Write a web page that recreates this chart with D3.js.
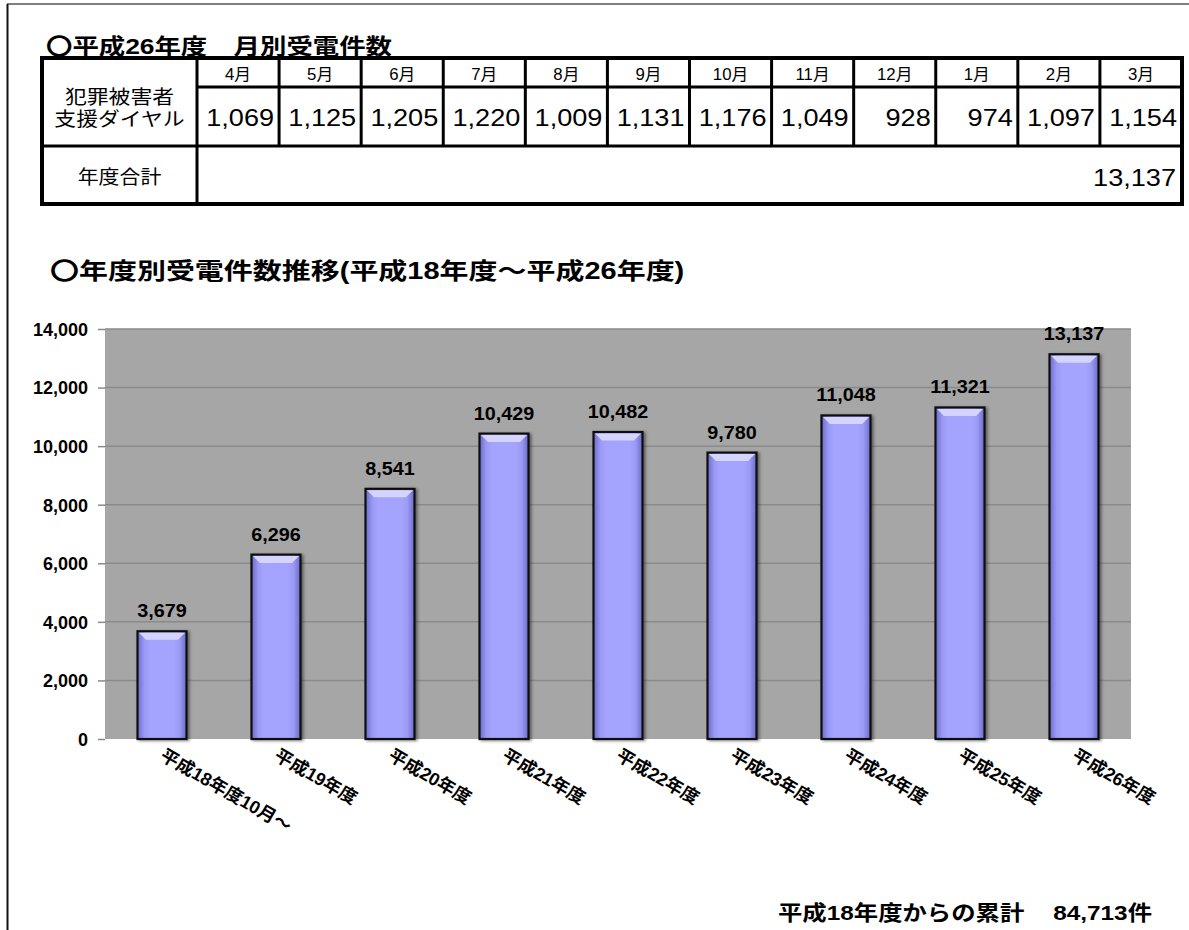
<!DOCTYPE html>
<html><head><meta charset="utf-8">
<script src="https://cdn.jsdelivr.net/npm/d3@7"></script>
<style>
html,body{margin:0;padding:0;background:#fff;}
svg{display:block;font-family:"Liberation Sans",Arial,"Noto Sans CJK JP",sans-serif;}
</style></head>
<body>
<svg id="c" width="1189" height="930"></svg>
<script>
// ---- data ----
const months = ["4月","5月","6月","7月","8月","9月","10月","11月","12月","1月","2月","3月"];
const monthlyCalls = [1069,1125,1205,1220,1009,1131,1176,1049,928,974,1097,1154];
const rowLabel = ["犯罪被害者","支援ダイヤル"];
const totalLabel = "年度合計";
const years = ["平成18年度10月～","平成19年度","平成20年度","平成21年度","平成22年度","平成23年度","平成24年度","平成25年度","平成26年度"];
const yearCalls = [3679,6296,8541,10429,10482,9780,11048,11321,13137];
const yTicks = [0,2000,4000,6000,8000,10000,12000,14000];
const title1 = "〇平成26年度　月別受電件数";
const title2 = "〇年度別受電件数推移(平成18年度～平成26年度)";
const cumLabel = "平成18年度からの累計";
const cumUnit = "件";

const fmt = d3.format(",");
const svg = d3.select("#c");

// stretched text helper
function stext(sel, x, y, sx, size, txt, anchor, bold){
  return sel.append("text").attr("transform",`translate(${x},${y}) scale(${sx},1)`)
    .attr("font-size",size).attr("text-anchor",anchor||"start")
    .attr("font-weight",bold?"bold":"normal").text(txt);
}

// page frame
svg.append("line").attr("x1",7).attr("x2",1189).attr("y1",4).attr("y2",4).attr("stroke","#555").attr("stroke-width",1.5);
svg.append("line").attr("x1",7.5).attr("x2",7.5).attr("y1",4).attr("y2",930).attr("stroke","#111").attr("stroke-width",2);

// ---- table ----
stext(svg,46,54,1.2,22,title1,"start",true);

const tL=42, tR=1182, c0=197, rows=[58,87,146,204];
const colX = d3.scaleBand().domain(months).range([c0,tR]);
const g = svg.append("g");
months.forEach((m)=>stext(g,colX(m)+colX.bandwidth()/2,80,1.05,16,m,"middle"));
monthlyCalls.forEach((v,i)=>stext(g,colX(months[i])+colX.bandwidth()-5,126,1.13,24,fmt(v),"end"));
rowLabel.forEach((t,i)=>stext(g,(tL+c0)/2,104+i*22,1.15,19,t,"middle"));
stext(g,(tL+c0)/2,184,1.1,19,totalLabel,"middle");
stext(g,tR-6,186,1.13,24,fmt(d3.sum(monthlyCalls)),"end");
// grid lines
g.append("line").attr("x1",c0).attr("x2",tR).attr("y1",rows[1]).attr("y2",rows[1]).attr("stroke","#000").attr("stroke-width",3);
g.append("line").attr("x1",tL).attr("x2",tR).attr("y1",rows[2]).attr("y2",rows[2]).attr("stroke","#000").attr("stroke-width",3);
g.selectAll("line.v").data(months).join("line").attr("class","v")
  .attr("x1",d=>colX(d)).attr("x2",d=>colX(d)).attr("y1",rows[0]).attr("y2",(d,i)=>i===0?rows[3]:rows[2])
  .attr("stroke","#000").attr("stroke-width",3);
g.append("rect").attr("x",tL).attr("y",rows[0]).attr("width",tR-tL).attr("height",rows[3]-rows[0])
  .attr("fill","none").attr("stroke","#000").attr("stroke-width",4);

// ---- chart ----
stext(svg,50,279,1.26,23,title2,"start",true);

const pL=105, pR=1131, pT=329, pB=739;
const x = d3.scaleBand().domain(years).range([pL,pR]).paddingInner(0.57).paddingOuter(0.285);
const y = d3.scaleLinear().domain([0,14000]).range([pB,pT]);

const defs = svg.append("defs");
const grad = defs.append("linearGradient").attr("id","barg").attr("x1",0).attr("x2",1).attr("y1",0).attr("y2",0);
[[0,"#6a6ac8"],[0.14,"#9a9af5"],[0.26,"#a4a4ff"],[0.74,"#a4a4ff"],[0.86,"#9a9af5"],[1,"#6a6ac8"]]
  .forEach(s=>grad.append("stop").attr("offset",s[0]).attr("stop-color",s[1]));
const f = defs.append("filter").attr("id","sh").attr("x","-20%").attr("y","-20%").attr("width","150%").attr("height","150%");
f.append("feDropShadow").attr("dx",2).attr("dy",1).attr("stdDeviation",1.5).attr("flood-color","#000").attr("flood-opacity",0.45);

svg.append("rect").attr("x",pL).attr("y",pT).attr("width",pR-pL).attr("height",pB-pT).attr("fill","#a6a6a6");
svg.append("g").attr("transform",`translate(${pL},0)`)
  .call(d3.axisLeft(y).tickValues(yTicks).tickSize(7).tickFormat(fmt))
  .call(a=>a.select(".domain").remove())
  .call(a=>a.selectAll(".tick line").attr("stroke","#8a8a8a").attr("stroke-width",1.5))
  .call(a=>a.selectAll(".tick text").attr("x",-17).attr("dy","0.35em").attr("fill","#000")
     .attr("font-size",18).attr("font-weight","bold").attr("font-family","Liberation Sans, Arial, sans-serif"));
svg.append("g").selectAll("line").data(yTicks.filter(d=>d>0)).join("line")
  .attr("x1",pL).attr("x2",pR).attr("y1",d=>y(d)).attr("y2",d=>y(d)).attr("stroke","#8a8a8a").attr("stroke-width",1.5);

const bars = svg.append("g").selectAll("g").data(yearCalls).join("g");
bars.append("rect").attr("x",(d,i)=>x(years[i])).attr("y",d=>y(d)).attr("width",x.bandwidth()).attr("height",d=>pB-y(d))
  .attr("fill","url(#barg)").attr("stroke","#111").attr("stroke-width",2.2).attr("filter","url(#sh)");
bars.append("path").attr("d",(d,i)=>{const x0=x(years[i])+1.5,w=x.bandwidth()-3,y0=y(d)+1.5;
   return `M${x0},${y0}L${x0+w},${y0}L${x0+w-7},${y0+7}L${x0+7},${y0+7}Z`;}).attr("fill","#d4d4ff");
const lbl = svg.append("g");
yearCalls.forEach((d,i)=>stext(lbl,x(years[i])+x.bandwidth()/2,y(d)-14,1.1,18,fmt(d),"middle",true));

// x labels rotated
svg.append("g").selectAll("text").data(years).join("text")
  .attr("transform",d=>`translate(${x(d)+x.bandwidth()/2-3},${pB+20}) rotate(30)`)
  .attr("font-size",18).attr("font-weight","bold").attr("text-anchor","start").text(d=>d);

// cumulative
const cg = svg.append("g");
stext(cg,778,920,1.16,21,cumLabel,"start",true);
stext(cg,1152,920,1.16,21,fmt(d3.sum(yearCalls))+cumUnit,"end",true);
</script>
</body></html>
